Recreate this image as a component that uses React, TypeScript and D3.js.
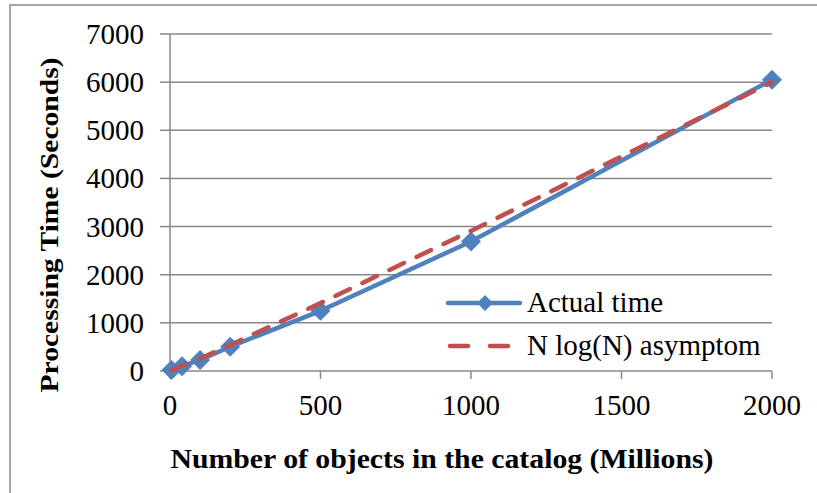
import React from "react";
import * as d3 from "d3";

const xValues = [5, 40, 100, 200, 500, 1000, 2000];
const actualTime = [20, 100, 230, 505, 1250, 2690, 6050];
const nlognTime = [15, 110, 260, 540, 1410, 2910, 6000];
const xTicks = [0, 500, 1000, 1500, 2000];
const yTicks = [0, 1000, 2000, 3000, 4000, 5000, 6000, 7000];
const seriesNames = ["Actual time", "N log(N) asymptom"];
const xTitle = "Number of objects in the catalog (Millions)";
const yTitle = "Processing Time (Seconds)";

const W = 817;
const H = 493;
const BLUE = "#4F81BD";
const RED = "#C0504D";
const GRID = "#888888";
const FONT = "'Liberation Serif', 'Times New Roman', serif";

export default function App() {
  const x = d3.scaleLinear().domain([0, 2000]).range([170, 772]);
  const y = d3.scaleLinear().domain([0, 7000]).range([371, 34]);

  const line = d3
    .line<[number, number]>()
    .x((d) => x(d[0]))
    .y((d) => y(d[1]));

  const actualPts: [number, number][] = xValues.map((v, i) => [v, actualTime[i]]);
  const nlognPts: [number, number][] = xValues.map((v, i) => [v, nlognTime[i]]);

  const diamond = (cx: number, cy: number, r: number) =>
    `M${cx},${cy - r}L${cx + r},${cy}L${cx},${cy + r}L${cx - r},${cy}Z`;

  return (
    <svg
      width={W}
      height={H}
      style={{ position: "absolute", left: 0, top: 0, background: "#fff" }}
      fontFamily={FONT}
    >
      <rect x={0} y={0} width={W} height={H} fill="#fff" />
      {/* outer border */}
      <path d={`M10,${H}L10,5L${W},5`} fill="none" stroke={GRID} strokeWidth={1.5} />

      {/* gridlines */}
      {yTicks.map((t) => (
        <line key={"g" + t} x1={x(0)} x2={x(2000)} y1={y(t)} y2={y(t)} stroke={GRID} strokeWidth={1.5} />
      ))}
      {/* y axis */}
      <line x1={x(0)} x2={x(0)} y1={y(7000)} y2={y(0)} stroke={GRID} strokeWidth={1.5} />
      {yTicks.map((t) => (
        <line key={"yt" + t} x1={x(0) - 10} x2={x(0)} y1={y(t)} y2={y(t)} stroke={GRID} strokeWidth={1.5} />
      ))}
      {/* x axis ticks */}
      {xTicks.map((t) => (
        <line key={"xt" + t} x1={x(t)} x2={x(t)} y1={y(0)} y2={y(0) + 8} stroke={GRID} strokeWidth={1.5} />
      ))}

      {/* tick labels */}
      {yTicks.map((t) => (
        <text key={"yl" + t} x={144} y={y(t) + 10} textAnchor="end" fontSize={29} fill="#000">
          {t}
        </text>
      ))}
      {xTicks.map((t) => (
        <text key={"xl" + t} x={x(t)} y={415} textAnchor="middle" fontSize={29} fill="#000">
          {t}
        </text>
      ))}

      {/* axis titles */}
      <text
        x={442}
        y={468}
        textAnchor="middle"
        fontSize={28}
        fontWeight="bold"
        textLength={543}
        lengthAdjust="spacingAndGlyphs"
        fill="#000"
      >
        {xTitle}
      </text>
      <text
        transform={`translate(58,225) rotate(-90)`}
        textAnchor="middle"
        fontSize={26}
        fontWeight="bold"
        textLength={335}
        lengthAdjust="spacingAndGlyphs"
        fill="#000"
      >
        {yTitle}
      </text>

      {/* series */}
      <path d={line(actualPts) || ""} fill="none" stroke={BLUE} strokeWidth={4.5} strokeLinejoin="round" />
      {actualPts.map((p, i) => (
        <path key={"m" + i} d={diamond(x(p[0]), y(p[1]), 10)} fill={BLUE} />
      ))}
      <path
        d={line(nlognPts) || ""}
        fill="none"
        stroke={RED}
        strokeWidth={4.5}
        strokeDasharray="16 14"
        strokeLinecap="round"
      />

      {/* legend */}
      <line x1={448} x2={520} y1={303} y2={303} stroke={BLUE} strokeWidth={4.5} strokeLinecap="round" />
      <path d={diamond(485, 303, 8)} fill={BLUE} />
      <text x={527} y={312} fontSize={29} fill="#000">
        {seriesNames[0]}
      </text>
      <line
        x1={450}
        x2={512}
        y1={346}
        y2={346}
        stroke={RED}
        strokeWidth={4.5}
        strokeDasharray="18 22"
        strokeLinecap="round"
      />
      <text x={527} y={355} fontSize={29} fill="#000">
        {seriesNames[1]}
      </text>
    </svg>
  );
}
